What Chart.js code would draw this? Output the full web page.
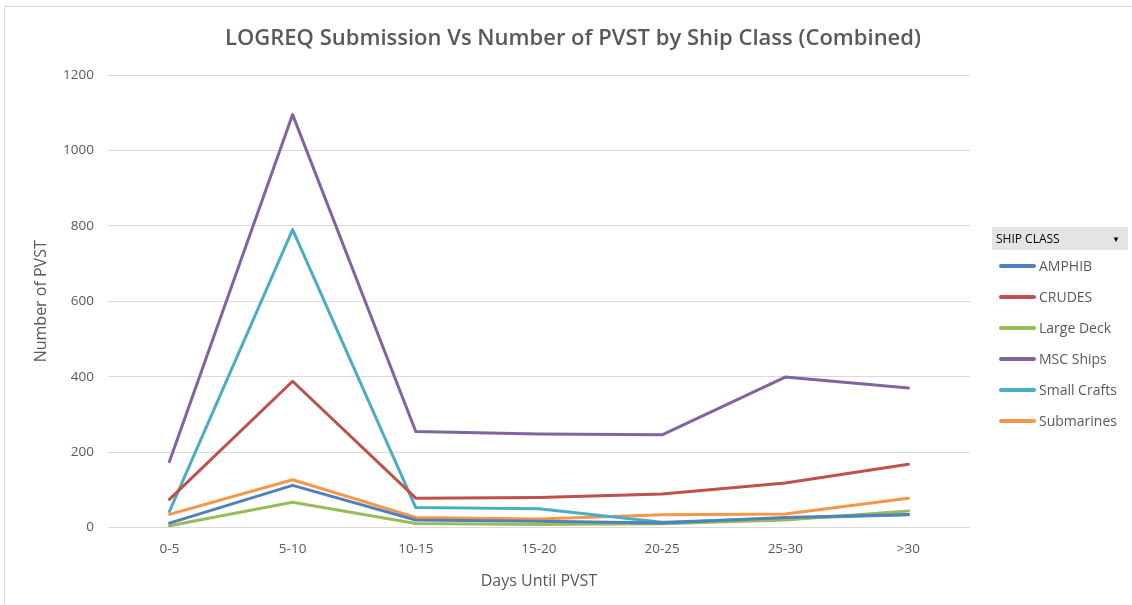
<!DOCTYPE html>
<html>
<head>
<meta charset="utf-8">
<script src="https://cdn.jsdelivr.net/npm/chart.js@4"></script>
<style>
  body { margin: 0; background: #fff; font-family: "Open Sans", sans-serif; }
  #wrap { position: relative; width: 1132px; height: 605px; overflow: hidden; }
  #frame { position: absolute; left: 4px; top: 6px; width: 1140px; height: 620px; border: 1px solid #d9d9d9; box-sizing: border-box; }
  #title { position: absolute; left: 0; width: 1146px; top: 21px; text-align: center; font-size: 22px; font-weight: 600; color: #595959; }
  #chartBox { position: absolute; left: 0; top: 0; width: 1132px; height: 605px; }
  #legend { position: absolute; left: 992px; top: 227px; width: 136px; }
  #legend .head { background: #e4e4e4; height: 23px; line-height: 23px; font-size: 12px; color: #000; padding-left: 4px; position: relative; }
  #legend .head span { position: absolute; right: 8px; top: 0; font-size: 8px; }
  #legend .item { height: 31px; line-height: 31px; font-size: 14px; color: #595959; position: relative; padding-left: 47px; }
  #legend .item i { position: absolute; left: 7px; top: 14px; width: 37px; height: 4px; border-radius: 2px; }
</style>
</head>
<body>
<div id="wrap">
  <div id="frame"></div>
  <div id="chartBox"><canvas id="myChart"></canvas></div>
  <div id="title">LOGREQ Submission Vs Number of PVST by Ship Class (Combined)</div>
  <div id="legend"></div>
</div>
<script>
const categories = ["0-5", "5-10", "10-15", "15-20", "20-25", "25-30", ">30"];

const amphib = [12, 112, 20, 17, 12, 27, 35];
const crudes = [75, 388, 78, 80, 89, 118, 168];
const largeDeck = [5, 67, 11, 8, 10, 20, 44];
const mscShips = [175, 1095, 255, 248, 246, 399, 370];
const smallCrafts = [43, 790, 53, 50, 14, 25, 34];
const submarines = [35, 127, 27, 23, 34, 36, 78];

const seriesNames = ["AMPHIB", "CRUDES", "Large Deck", "MSC Ships", "Small Crafts", "Submarines"];
const seriesData = [amphib, crudes, largeDeck, mscShips, smallCrafts, submarines];
const seriesColors = ["#4f81bd", "#c0504d", "#9bbb59", "#8064a2", "#4bacc6", "#f79646"];

const tickFont = { family: "Open Sans", size: 13.5 };
const axisTitleFont = { family: "Open Sans", size: 16 };

const ctx = document.getElementById("myChart").getContext("2d");

const myChart = new Chart(ctx, {
  type: "line",
  data: {
    labels: categories,
    datasets: seriesNames.map((name, i) => ({
      label: name,
      data: seriesData[i],
      borderColor: seriesColors[i],
      backgroundColor: seriesColors[i],
      borderWidth: 3,
      borderCapStyle: "round",
      borderJoinStyle: "round",
      pointRadius: 0,
      tension: 0,
      fill: false,
    })),
  },
  options: {
    responsive: true,
    maintainAspectRatio: false,
    animation: false,
    layout: { padding: { top: 75, left: 33, right: 162, bottom: 14 } },
    plugins: {
      legend: { display: false },
      tooltip: { enabled: false },
    },
    scales: {
      x: {
        offset: true,
        grid: { display: false, offset: true },
        border: { display: false },
        ticks: { color: "#595959", font: tickFont, padding: 5 },
        title: { display: true, text: "Days Until PVST", color: "#595959", font: axisTitleFont, padding: { top: 10, bottom: 0 } },
      },
      y: {
        min: 0,
        max: 1200,
        ticks: { stepSize: 200, color: "#595959", font: tickFont, padding: 14, callback: (v) => String(v) },
        grid: { color: "#d9d9d9", lineWidth: 1, drawTicks: false },
        border: { display: false },
        title: { display: true, text: "Number of PVST", color: "#595959", font: { family: "Open Sans", size: 16, lineHeight: 1 }, padding: { top: 0, bottom: 0 } },
      },
    },
  },
});

const legendEl = document.getElementById("legend");
let html = '<div class="head">SHIP CLASS<span>&#9660;</span></div>';
seriesNames.forEach((name, i) => {
  html += '<div class="item"><i style="background:' + seriesColors[i] + '"></i>' + name + '</div>';
});
legendEl.innerHTML = html;
</script>
</body>
</html>
